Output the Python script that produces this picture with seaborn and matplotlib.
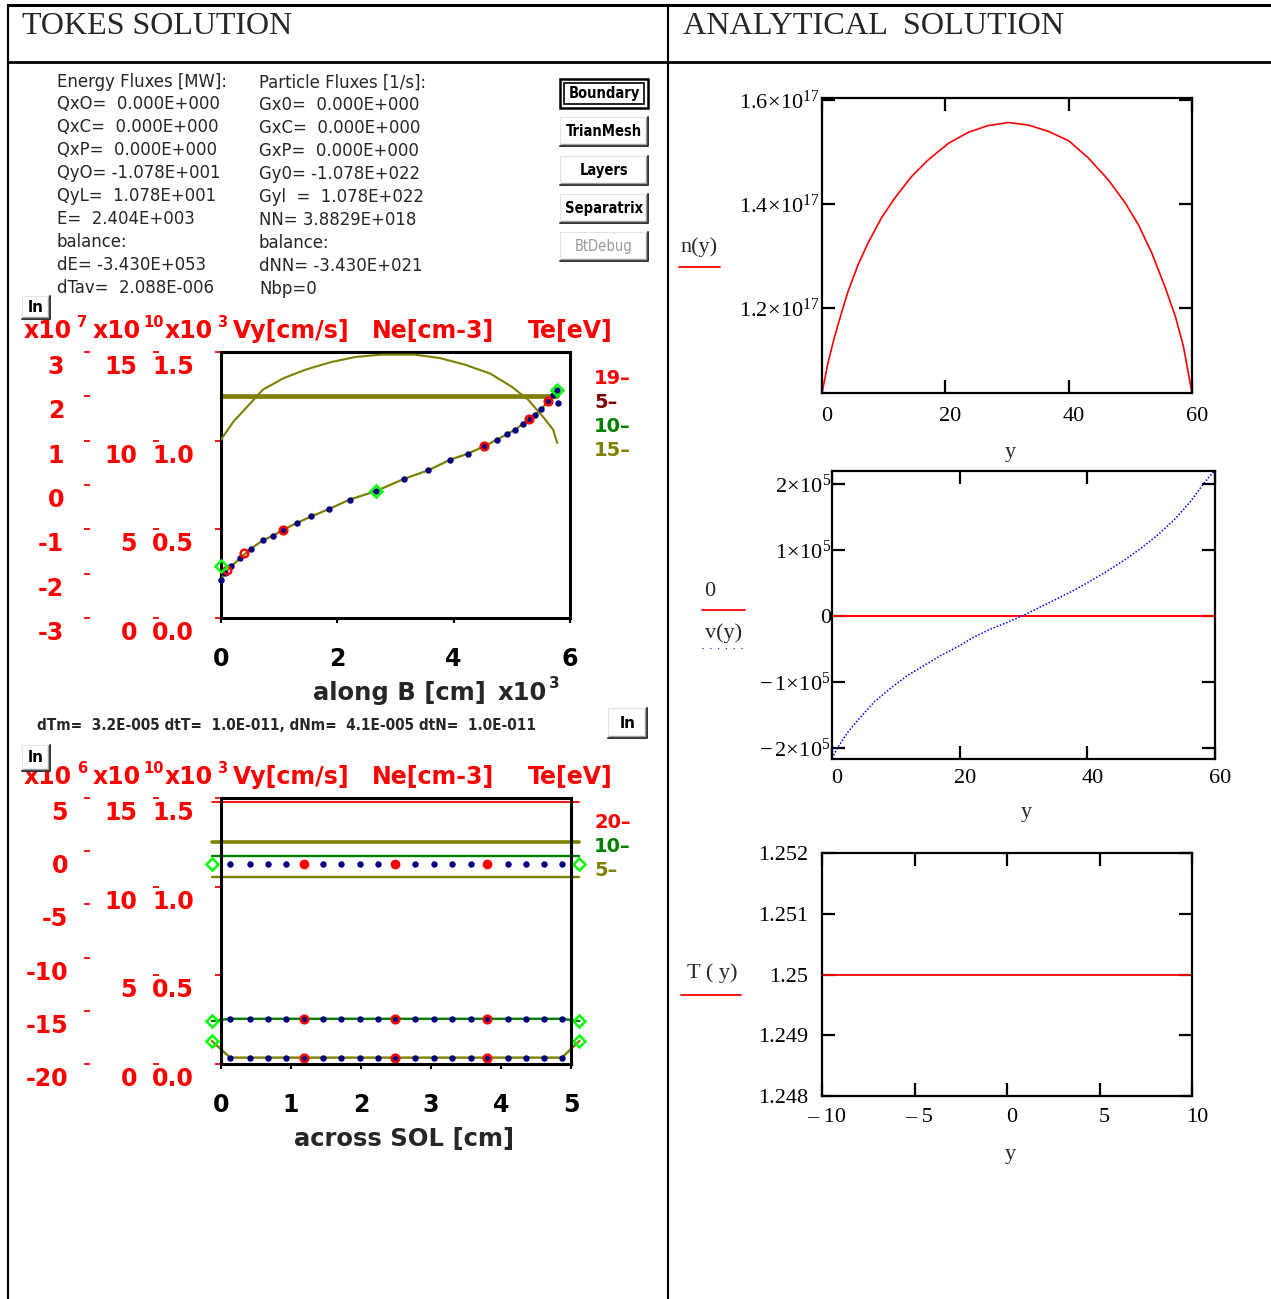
import os
import numpy as np
import pandas as pd
import matplotlib
matplotlib.use("Agg")
import matplotlib.pyplot as plt
import seaborn as sns
from matplotlib.patches import Rectangle
from matplotlib.lines import Line2D
from matplotlib.transforms import ScaledTranslation
from matplotlib import font_manager as fm

# ====================== DATA ======================
# --- TOKES text panel
energy_lines = ["Energy Fluxes [MW]:", "QxO=  0.000E+000", "QxC=  0.000E+000", "QxP=  0.000E+000",
                "QyO= -1.078E+001", "QyL=  1.078E+001", "E=  2.404E+003", "balance:",
                "dE= -3.430E+053", "dTav=  2.088E-006"]
particle_lines = ["Particle Fluxes [1/s]:", "Gx0=  0.000E+000", "GxC=  0.000E+000", "GxP=  0.000E+000",
                  "Gy0= -1.078E+022", "Gyl  =  1.078E+022", "NN= 3.8829E+018", "balance:",
                  "dNN= -3.430E+021", "Nbp=0"]
button_labels = ["Boundary", "TrianMesh", "Layers", "Separatrix", "BtDebug"]
step_info = "dTm=  3.2E-005 dtT=  1.0E-011, dNm=  4.1E-005 dtN=  1.0E-011"
header_units = ["Vy[cm/s]", "Ne[cm-3]", "Te[eV]"]

# --- upper TOKES panel: along B (x in 10^3 cm)
along_x = [0.00, 0.07, 0.18, 0.33, 0.51, 0.72, 0.90, 1.07, 1.30, 1.55, 1.86, 2.21, 2.66, 3.15,
           3.56, 3.94, 4.25, 4.52, 4.74, 4.92, 5.06, 5.19, 5.31, 5.40, 5.51, 5.62, 5.71, 5.77]
along_vy = [-2.14, -1.98, -1.83, -1.65, -1.44, -1.25, -1.14, -1.01, -0.86, -0.71, -0.54, -0.33, -0.14, 0.14,
            0.33, 0.57, 0.71, 0.87, 1.02, 1.15, 1.25, 1.38, 1.49, 1.59, 1.71, 1.89, 2.04, 2.15]   # 10^7 cm/s
along_red_x = [0.11, 0.40, 1.07, 4.52, 5.30, 5.62]
along_red_vy = [-1.92, -1.53, -1.01, 0.87, 1.49, 1.89]
along_green_x = [0.00, 2.66, 5.77]
along_green_vy = [-1.83, -0.14, 2.15]
along_extra_x = [5.79]
along_extra_vy = [1.86]
ne_x = [0.00, 0.22, 0.43, 0.72, 1.08, 1.45, 1.88, 2.31, 2.75, 3.33, 3.76, 4.19, 4.63, 4.99, 5.28, 5.53, 5.71, 5.78]
ne_val = [10.06, 11.1, 11.84, 12.88, 13.53, 14.0, 14.42, 14.72, 14.85, 14.85, 14.66, 14.29, 13.78, 13.06,
          12.31, 11.37, 10.62, 9.87]    # 10^10 cm^-3
te_x = [0.0, 5.78]
te_val = [1.25, 1.25]                    # 10^3 eV
along_xticks = [0, 2, 4, 6]
vy_ticks_a = [3, 2, 1, 0, -1, -2, -3]
ne_ticks = [15, 10, 5, 0]
te_ticks = [1.5, 1.0, 0.5, 0.0]
te_tick_labels = ["1.5", "1.0", "0.5", "0.0"]
legend_a = ["19–", "5–", "10–", "15–"]
legend_b = ["20–", "10–", "5–"]

# --- lower TOKES panel: across SOL (x in cm, values in Te-axis units 0..1.5)
sol_x = [0.13, 0.41, 0.67, 0.93, 1.18, 1.46, 1.72, 1.98, 2.24, 2.49, 2.77, 3.04, 3.30, 3.57,
         3.80, 4.10, 4.35, 4.61, 4.87]
sol_red_x = [1.18, 2.49, 3.80]
sol_edge_x = [-0.13, 5.12]
sol_red_level = 1.477
sol_te_level = 1.25
sol_green_level = 1.175
sol_olive_low_level = 1.054
sol_dot_level = 1.126
sol_green_row = 0.255
sol_green_edge = 0.242
sol_olive_row = 0.036
sol_olive_edge = 0.130
sol_xticks = [0, 1, 2, 3, 4, 5]
vy_ticks_b = [5, 0, -5, -10, -15, -20]

# --- analytical solution
n_y = [0, 0.97, 2.06, 3.14, 4.23, 5.85, 7.47, 9.64, 11.8, 14.5, 17.2, 20.5, 23.7, 26.9, 30.2,
       33.5, 36.7, 40.0, 43.2, 46.5, 49.2, 51.3, 53.5, 55.7, 57.3, 58.6, 60]
n_val = [1.037, 1.095, 1.146, 1.190, 1.232, 1.283, 1.325, 1.373, 1.411, 1.452, 1.484, 1.516, 1.537, 1.550,
         1.556, 1.551, 1.539, 1.521, 1.488, 1.445, 1.401, 1.360, 1.305, 1.238, 1.184, 1.127, 1.037]  # 1e17
v_y = [0, 0.94, 2.5, 4.07, 6.68, 9.29, 11.9, 14.5, 17.1, 19.7, 22.3, 24.9, 27.5, 29.9, 32.8,
       35.4, 38.0, 40.6, 43.2, 45.8, 48.4, 51.0, 53.6, 56.2, 58.3, 59.8]
v_val = [-2.16, -1.99, -1.76, -1.58, -1.30, -1.09, -0.90, -0.75, -0.60, -0.47, -0.32, -0.20, -0.10, 0.0,
         0.14, 0.26, 0.39, 0.53, 0.68, 0.84, 1.02, 1.22, 1.45, 1.73, 2.01, 2.18]   # 1e5
zero_y = [0, 60]
zero_val = [0, 0]
T_y = [-10, 10]
T_val = [1.25, 1.25]
n_yticks = [1.2, 1.4, 1.6]
n_yticklabels = [r"$1.2\!\times\!10^{17}$", r"$1.4\!\times\!10^{17}$", r"$1.6\!\times\!10^{17}$"]
v_yticks = [-2, -1, 0, 1, 2]
v_yticklabels = [r"$-\,2\!\times\!10^{5}$", r"$-\,1\!\times\!10^{5}$", "0",
                 r"$1\!\times\!10^{5}$", r"$2\!\times\!10^{5}$"]
T_yticks = [1.248, 1.249, 1.25, 1.251, 1.252]
T_yticklabels = ["1.248", "1.249", "1.25", "1.251", "1.252"]
T_xticks = [-10, -5, 0, 5, 10]
T_xticklabels = ["– 10", "– 5", "0", "5", "10"]

# ====================== STYLE ======================
sns.set_theme(style="white")
plt.rcParams["font.family"] = ["DejaVu Sans"]
plt.rcParams["axes.unicode_minus"] = False
plt.rcParams["mathtext.fontset"] = "custom"
plt.rcParams["mathtext.rm"] = "Liberation Serif"
plt.rcParams["mathtext.it"] = "Liberation Serif:italic"
plt.rcParams["mathtext.bf"] = "DejaVu Sans:bold"

SERIF = "Liberation Serif"
OLIVE = "#808000"
NAVY = "#000080"
LIME = "#00ff00"
GREEN = "#008000"


def find_font(keys, bold):
    bad_regular = ("bold", "light", "thin", "black", "medium", "semi", "extra", "italic", "oblique", "heavy")
    for key in keys:
        for f in fm.fontManager.ttflist:
            fn = os.path.basename(f.fname).lower()
            if key not in fn:
                continue
            if bold:
                if "bold" in fn and not any(b in fn for b in ("semi", "extra", "italic", "oblique")):
                    return fm.FontProperties(fname=f.fname)
            else:
                if not any(b in fn for b in bad_regular):
                    return fm.FontProperties(fname=f.fname)
    return None


narrow_keys = ["liberationsansnarrow", "dejavusanscondensed", "notosans-condensed",
               "opensans_condensed", "opensans-condensed", "robotocondensed", "roboto-condensed"]
NARROW_FP = find_font(narrow_keys, False) or fm.FontProperties(family="Liberation Sans")
NARROW_BFP = find_font(narrow_keys, True) or fm.FontProperties(family="Liberation Sans", weight="bold")

W, H = 1271, 1299
fig = plt.figure(figsize=(W / 100, H / 100), dpi=100)
fig.patch.set_facecolor("white")
renderer = fig.canvas.get_renderer()


def fx(x):
    return x / W


def fy(y):
    return 1 - y / H


def rect(x0, y0, x1, y1):
    return [x0 / W, 1 - y1 / H, (x1 - x0) / W, (y1 - y0) / H]


def fline(xs, ys, **kw):
    fig.add_artist(Line2D([fx(v) for v in xs], [fy(v) for v in ys], transform=fig.transFigure, **kw))


def fit(t, target_px):
    bb = t.get_window_extent(renderer)
    t.set_fontsize(t.get_fontsize() * target_px / bb.width)
    return t.get_fontsize()


def ntext(x, y, s, fs, bold=False, **kw):
    fp = (NARROW_BFP if bold else NARROW_FP).copy()
    fp.set_size(fs)
    return fig.text(fx(x), fy(y), s, fontproperties=fp, **kw)


# ---------- table frame ----------
fline([8, 1271], [5, 5], color="black", lw=2.2)
fline([8, 1271], [62, 62], color="black", lw=2.0)
fline([8, 8], [5, 1299], color="black", lw=1.5)
fline([668, 668], [5, 1299], color="black", lw=1.5)
t = fig.text(fx(22), fy(26), "TOKES SOLUTION", family=SERIF, fontsize=22, va="center", ha="left")
fit(t, 270)
t = fig.text(fx(683), fy(26), "ANALYTICAL  SOLUTION", family=SERIF, fontsize=22, va="center", ha="left")
fit(t, 380)

# ---------- stats text ----------
line_y = [82, 104, 127, 150, 173, 196, 219, 242, 265, 288]
t0 = ntext(57, line_y[0], energy_lines[0], 16, va="center", ha="left")
fs_stat = fit(t0, 171)
for yy, s in zip(line_y[1:], energy_lines[1:]):
    ntext(57, yy, s, fs_stat, va="center", ha="left")
for yy, s in zip(line_y, particle_lines):
    ntext(259, yy + 1, s, fs_stat, va="center", ha="left")
# the last energy line is cut in the original screen grab
fig.add_artist(Rectangle((fx(50), fy(306)), 195 / W, 13 / H, transform=fig.transFigure,
                         facecolor="white", edgecolor="none", zorder=10))


# ---------- buttons ----------
def button(x0, y0, x1, y1, label, focused=False, color="black", bold=True, fs=10.5, narrow=True):
    fig.add_artist(Rectangle((fx(x0), fy(y1)), (x1 - x0) / W, (y1 - y0) / H, transform=fig.transFigure,
                             facecolor="white", edgecolor="none", zorder=20))
    if focused:
        fig.add_artist(Rectangle((fx(x0), fy(y1)), (x1 - x0) / W, (y1 - y0) / H, transform=fig.transFigure,
                                 facecolor="none", edgecolor="black", lw=1.8, zorder=21))
        fig.add_artist(Rectangle((fx(x0 + 4), fy(y1 - 4)), (x1 - x0 - 8) / W, (y1 - y0 - 8) / H,
                                 transform=fig.transFigure, facecolor="none", edgecolor="black", lw=1.2, zorder=21))
    else:
        fline([x0, x0, x1], [y1, y0, y0], color="#e4e4e4", lw=0.8, zorder=21)
        fline([x0, x1, x1], [y1, y1, y0], color="#303030", lw=1.4, zorder=21)
        fline([x0 + 1, x1 - 2, x1 - 2], [y1 - 2, y1 - 2, y0 + 1], color="#a0a0a0", lw=1.0, zorder=21)
    if narrow:
        ntext((x0 + x1) / 2, (y0 + y1) / 2, label, fs, bold=bold, ha="center", va="center",
              color=color, zorder=22)
    else:
        fig.text(fx((x0 + x1) / 2), fy((y0 + y1) / 2), label, ha="center", va="center", color=color,
                 fontsize=fs, fontweight="bold", zorder=22)


btn_tops = [79, 117, 156, 194, 232]
for i, (top, lab) in enumerate(zip(btn_tops, button_labels)):
    if i == 0:
        button(560, top, 648, top + 29, lab, focused=True)
    elif i == 4:
        button(560, top, 648, top + 29, lab, color="#9a9a9a", bold=False)
    else:
        button(560, top, 648, top + 29, lab)

button(22, 296, 50, 319, "ln", fs=11, narrow=False)
button(608, 708, 647, 738, "ln", fs=11, narrow=False)
button(22, 745, 50, 771, "ln", fs=11, narrow=False)


# ---------- red headers ----------
def red_header(base_y, exps):
    xs = [24, 93, 165]
    sup_x = [77, 143, 217]
    for x, sx, e in zip(xs, sup_x, exps):
        fig.text(fx(x), fy(base_y), "x10", color="red", fontsize=17, fontweight="bold", va="baseline", ha="left")
        fig.text(fx(sx), fy(base_y - 11), e, color="red", fontsize=10.5, fontweight="bold", va="baseline", ha="left")
    for x, s in zip([233, 372, 528], header_units):
        fig.text(fx(x), fy(base_y), s, color="red", fontsize=17, fontweight="bold", va="baseline", ha="left")


red_header(338, ["7", "10", "3"])
red_header(784, ["6", "10", "3"])


def legend_texts(ys, labels, colors):
    for yy, lab, c in zip(ys, labels, colors):
        fig.text(fx(594), fy(yy), lab, color=c, fontsize=14, fontweight="bold", va="center", ha="left")


legend_texts([378, 402, 426, 450], legend_a, ["red", "#800000", GREEN, OLIVE])
legend_texts([823, 847, 871], legend_b, ["red", GREEN, OLIVE])

shift_down = []   # tick-label lists to be nudged after layout


# ---------- TOKES plots ----------
def overlay_axis(box, ylim, ticks, labels, spine_x, label_right):
    ax = fig.add_axes(rect(*box), label=f"ov{spine_x}{box[1]}")
    ax.patch.set_visible(False)
    for s in ax.spines.values():
        s.set_visible(False)
    ax.xaxis.set_visible(False)
    ax.set_ylim(*ylim)
    ax.spines["left"].set_position(("outward", (box[0] - spine_x) * 0.72))
    ax.set_yticks(ticks)
    ax.set_yticklabels(labels, color="red", fontsize=17, fontweight="bold", va="top")
    ax.tick_params(axis="y", left=True, right=False, direction="out", length=6 * 0.72, width=1.3,
                   color="red", pad=(spine_x - 6 - label_right) * 0.72)
    shift_down.append(ax)
    return ax


def main_box(box, xlim, xticks, ylim):
    ax = fig.add_axes(rect(*box))
    ax.set_facecolor("white")
    ax.set_xlim(*xlim)
    ax.set_ylim(*ylim)
    for s in ax.spines.values():
        s.set_visible(True)
        s.set_color("black")
        s.set_linewidth(2.2)
    ax.set_xticks(xticks)
    ax.set_xticklabels([str(v) for v in xticks], fontsize=17, fontweight="bold", color="black")
    ax.tick_params(axis="x", bottom=True, top=False, direction="out", length=5 * 0.72, width=1.5,
                   color="black", pad=17)
    ax.set_yticks(te_ticks)
    ax.set_yticklabels(te_tick_labels, color="red", fontsize=17, fontweight="bold", va="top")
    ax.tick_params(axis="y", left=True, right=False, direction="out", length=6 * 0.72, width=1.3,
                   color="red", pad=(221 - 6 - 194) * 0.72)
    ax.grid(False)
    shift_down.append(ax)
    return ax


# upper panel
boxA = (221, 352, 570, 618)
axA = main_box(boxA, (0, 6), along_xticks, (0, 1.5))
axNeA = overlay_axis(boxA, (0, 15), ne_ticks, [str(v) for v in ne_ticks], 159, 137)
axVyA = overlay_axis(boxA, (-3, 3), vy_ticks_a, [str(v) for v in vy_ticks_a], 90, 64)
for a in (axNeA, axVyA):
    a.set_xlim(0, 6)

sns.lineplot(x=te_x, y=te_val, ax=axA, color=OLIVE, lw=3.4, estimator=None, sort=False)
sns.lineplot(x=ne_x, y=ne_val, ax=axNeA, color=OLIVE, lw=1.5, estimator=None, sort=False)
sns.lineplot(x=along_x, y=along_vy, ax=axVyA, color=OLIVE, lw=1.6, estimator=None, sort=False)
axVyA.plot(along_x, along_vy, ls="none", marker="o", ms=3.6, color=NAVY, clip_on=False)
axVyA.plot(along_extra_x, along_extra_vy, ls="none", marker="o", ms=3.6, color=NAVY, clip_on=False)
axVyA.plot(along_red_x, along_red_vy, ls="none", marker="o", ms=5.5, mfc="none", mec="red", mew=1.8, clip_on=False)
axVyA.plot(along_green_x, along_green_vy, ls="none", marker="D", ms=6, mfc="none", mec=LIME, mew=1.8, clip_on=False)

fig.text(fx(313), fy(700), "along B [cm]", fontsize=17.5, fontweight="bold", va="baseline", ha="left")
fig.text(fx(498), fy(700), "x10", fontsize=17.5, fontweight="bold", va="baseline", ha="left")
fig.text(fx(549), fy(688), "3", fontsize=11, fontweight="bold", va="baseline", ha="left")
t = ntext(37, 725, step_info, 11, bold=True, va="center", ha="left")
fit(t, 500)

# lower panel
boxB = (221, 798, 571, 1064)
axB = main_box(boxB, (0, 5), sol_xticks, (0, 1.5))
axNeB = overlay_axis(boxB, (0, 15), ne_ticks, [str(v) for v in ne_ticks], 159, 137)
axVyB = overlay_axis(boxB, (-20, 5), vy_ticks_b, [str(v) for v in vy_ticks_b], 90, 68)
for a in (axNeB, axVyB):
    a.set_xlim(0, 5)

flat_df = pd.DataFrame({
    "x": sol_edge_x * 4,
    "y": [sol_red_level] * 2 + [sol_te_level] * 2 + [sol_green_level] * 2 + [sol_olive_low_level] * 2,
    "series": ["red"] * 2 + ["te"] * 2 + ["green"] * 2 + ["olive_low"] * 2,
})
flat_styles = {"red": ("red", 1.3), "te": (OLIVE, 2.6), "green": (GREEN, 1.7), "olive_low": (OLIVE, 1.7)}
for name, g in flat_df.groupby("series", sort=False):
    c, lw = flat_styles[name]
    sns.lineplot(data=g, x="x", y="y", ax=axB, color=c, lw=lw, estimator=None, sort=False)
for l in axB.get_lines():
    l.set_clip_on(False)

# dotted row (no line)
axB.plot(sol_x, [sol_dot_level] * len(sol_x), ls="none", marker="o", ms=3.6, color=NAVY)
axB.plot(sol_red_x, [sol_dot_level] * len(sol_red_x), ls="none", marker="o", ms=6, color="red")
axB.plot(sol_edge_x, [sol_dot_level] * 2, ls="none", marker="D", ms=6, mfc="none", mec=LIME, mew=1.8, clip_on=False)

# green dotted row
gx = [sol_edge_x[0]] + sol_x + [sol_edge_x[1]]
gy = [sol_green_edge] + [sol_green_row] * len(sol_x) + [sol_green_edge]
axB.plot(gx, gy, color=GREEN, lw=1.7, clip_on=False)
axB.plot(sol_x, [sol_green_row] * len(sol_x), ls="none", marker="o", ms=3.6, color=NAVY)
axB.plot(sol_red_x, [sol_green_row] * 3, ls="none", marker="o", ms=5.5, mfc="none", mec="red", mew=1.8)
axB.plot(sol_edge_x, [sol_green_edge] * 2, ls="none", marker="D", ms=6, mfc="none", mec=LIME, mew=1.8, clip_on=False)

# olive dotted row
oy = [sol_olive_edge] + [sol_olive_row] * len(sol_x) + [sol_olive_edge]
axB.plot(gx, oy, color=OLIVE, lw=1.7, clip_on=False)
axB.plot(sol_x, [sol_olive_row] * len(sol_x), ls="none", marker="o", ms=3.6, color=NAVY)
axB.plot(sol_red_x, [sol_olive_row] * 3, ls="none", marker="o", ms=5.5, mfc="none", mec="red", mew=1.8)
axB.plot(sol_edge_x, [sol_olive_edge] * 2, ls="none", marker="D", ms=6, mfc="none", mec=LIME, mew=1.8, clip_on=False)

fig.text(fx(294), fy(1146), "across SOL [cm]", fontsize=17.5, fontweight="bold", va="baseline", ha="left")

shift_right = []


# ---------- analytical plots ----------
def mc_axes(box, xlim, ylim, xticks, xlabels, yticks, ylabels, ypad, xpad):
    ax = fig.add_axes(rect(*box))
    ax.set_facecolor("white")
    ax.set_xlim(*xlim)
    ax.set_ylim(*ylim)
    for s in ax.spines.values():
        s.set_visible(True)
        s.set_color("black")
        s.set_linewidth(1.6)
    ax.set_xticks(xticks)
    ax.set_xticklabels(xlabels, family=SERIF, fontsize=16)
    ax.set_yticks(yticks)
    ax.set_yticklabels(ylabels, family=SERIF, fontsize=16)
    ax.tick_params(axis="both", direction="in", length=13 * 0.72, width=1.6, color="black",
                   top=True, bottom=True, left=True, right=True, labelcolor="black")
    ax.tick_params(axis="y", pad=ypad)
    ax.tick_params(axis="x", pad=xpad)
    ax.grid(False)
    shift_right.append(ax)
    return ax


axN = mc_axes((822, 98, 1192, 393), (0, 60), (1.037, 1.603), [0, 20, 40, 60], ["0", "20", "40", "60"],
              n_yticks, n_yticklabels, 1.5, 10)
sns.lineplot(x=n_y, y=n_val, ax=axN, color="red", lw=1.2, estimator=None, sort=False)
fig.text(fx(699), fy(247), "n(y)", family=SERIF, fontsize=16, ha="center", va="center")
fline([679, 720], [267, 267], color="red", lw=1.3)
fig.text(fx(1010), fy(452), "y", family=SERIF, fontsize=16, ha="center", va="center")

axV = mc_axes((832, 471, 1215, 759), (0, 60), (-2.17, 2.19), [0, 20, 40, 60], ["0", "20", "40", "60"],
              v_yticks, v_yticklabels, 0.8, 7)
sns.lineplot(x=zero_y, y=zero_val, ax=axV, color="red", lw=1.4, estimator=None, sort=False)
sns.lineplot(x=v_y, y=v_val, ax=axV, color="blue", lw=1.1, linestyle=(0, (1, 1.2)), estimator=None, sort=False)
fig.text(fx(710), fy(591), "0", family=SERIF, fontsize=16, ha="center", va="center")
fline([702, 745], [610, 610], color="red", lw=1.3)
fig.text(fx(724), fy(633), "v(y)", family=SERIF, fontsize=16, ha="center", va="center")
fline([702, 745], [648, 648], color="blue", lw=0.8, linestyle=(0, (1, 6)))
fig.text(fx(1026), fy(813), "y", family=SERIF, fontsize=16, ha="center", va="center")

axT = mc_axes((822, 853, 1192, 1096), (-10, 10), (1.248, 1.252), T_xticks, T_xticklabels,
              T_yticks, T_yticklabels, 10, 9)
sns.lineplot(x=T_y, y=T_val, ax=axT, color="red", lw=1.3, estimator=None, sort=False)
fig.text(fx(712), fy(973), "T ( y)", family=SERIF, fontsize=16, ha="center", va="center")
fline([681, 741], [995, 995], color="red", lw=1.3)
fig.text(fx(1010), fy(1155), "y", family=SERIF, fontsize=16, ha="center", va="center")

for a in fig.axes:
    if a.get_legend() is not None:
        a.get_legend().remove()
    a.set_xlabel("")
    a.set_ylabel("")

# small label nudges (Mathcad puts x labels slightly right; TOKES hangs y labels a bit lower)
for a in shift_right:
    for lab in a.get_xticklabels():
        lab.set_transform(lab.get_transform() + ScaledTranslation(5 / 100, 0, fig.dpi_scale_trans))
for a in shift_down:
    for lab in a.get_yticklabels():
        lab.set_transform(lab.get_transform() + ScaledTranslation(0, -3 / 100, fig.dpi_scale_trans))

fig.savefig("out.png", dpi=100, facecolor="white")
